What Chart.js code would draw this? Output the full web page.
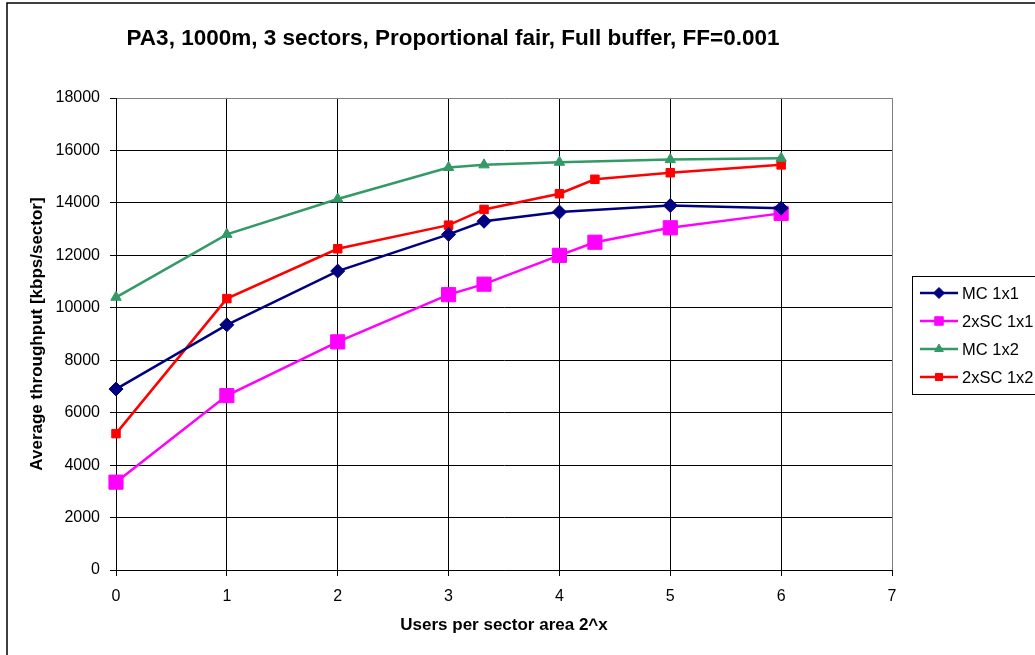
<!DOCTYPE html>
<html>
<head>
<meta charset="utf-8">
<script src="https://cdn.jsdelivr.net/npm/chart.js@4/dist/chart.umd.min.js"></script>
<style>
  html, body { margin: 0; padding: 0; background: #fff; overflow: hidden; }
  #wrap { width: 1035px; height: 655px; }
</style>
</head>
<body>
<div id="wrap"><canvas id="throughputChart" width="1035" height="655"></canvas></div>
<script>
// users per sector area, as exponent of 2
const xMc1x1 = [0, 1, 2, 3, 3.32, 4, 5, 6];
const mc1x1 = [6900, 9350, 11400, 12800, 13300, 13650, 13900, 13800];

const xSc1x1 = [0, 1, 2, 3, 3.32, 4, 4.32, 5, 6];
const sc1x1 = [3350, 6650, 8700, 10500, 10900, 12000, 12500, 13050, 13600];

const xMc1x2 = [0, 1, 2, 3, 3.32, 4, 5, 6];
const mc1x2 = [10400, 12800, 14150, 15350, 15450, 15550, 15650, 15700];

const xSc1x2 = [0, 1, 2, 3, 3.32, 4, 4.32, 5, 6];
const sc1x2 = [5200, 10350, 12250, 13150, 13750, 14350, 14900, 15150, 15450];

const seriesNames = ['MC 1x1', '2xSC 1x1', 'MC 1x2', '2xSC 1x2'];
const titleText = 'PA3, 1000m, 3 sectors, Proportional fair, Full buffer, FF=0.001';
const xTitle = 'Users per sector area 2^x';
const yTitle = 'Average throughput [kbps/sector]';

const FONT = "Arial, 'Liberation Sans', sans-serif";

function toPoints(xs, ys) {
  return xs.map(function(x, i) { return { x: x, y: ys[i] }; });
}

function makeSeries(label, xs, ys, color, style, radius, legendRadius) {
  return {
    label: label,
    data: toPoints(xs, ys),
    showLine: true,
    clip: false,
    borderColor: color,
    backgroundColor: color,
    borderWidth: 2.5,
    pointStyle: style,
    pointRadius: radius,
    pointHoverRadius: radius,
    pointBorderWidth: 1,
    pointBorderColor: color,
    pointBackgroundColor: color,
    legendRadius: legendRadius
  };
}

// frame round the whole chart, plus the title
const framePlugin = {
  id: 'frame',
  beforeDraw: function(chart) {
    const ctx = chart.ctx;
    ctx.save();
    ctx.fillStyle = '#fff';
    ctx.fillRect(0, 0, chart.width, chart.height);
    ctx.strokeStyle = '#000';
    ctx.lineWidth = 1.5;
    ctx.strokeRect(7, 3, chart.width + 20, chart.height + 20);
    ctx.fillStyle = '#000';
    ctx.font = 'bold 22.5px ' + FONT;
    ctx.textAlign = 'center';
    ctx.textBaseline = 'middle';
    ctx.fillText(titleText, 453, 39);
    ctx.restore();
  }
};

// boxed legend on the right, running off the edge
const legendPlugin = {
  id: 'boxLegend',
  afterDraw: function(chart) {
    const ctx = chart.ctx;
    const left = 912, top = 276, rowH = 28;
    ctx.save();
    ctx.fillStyle = '#fff';
    ctx.fillRect(left, top, 200, 118);
    ctx.strokeStyle = '#000';
    ctx.lineWidth = 1;
    ctx.strokeRect(left + 0.5, top + 0.5, 200, 118);
    chart.data.datasets.forEach(function(ds, i) {
      const y = top + 17 + i * rowH;
      ctx.strokeStyle = ds.borderColor;
      ctx.lineWidth = 2.5;
      ctx.beginPath();
      ctx.moveTo(920, y);
      ctx.lineTo(958, y);
      ctx.stroke();
      ctx.fillStyle = ds.pointBackgroundColor;
      ctx.strokeStyle = ds.pointBorderColor;
      ctx.lineWidth = 1;
      Chart.helpers.drawPoint(ctx, {
        pointStyle: ds.pointStyle,
        radius: ds.legendRadius,
        rotation: 0,
        borderWidth: 1
      }, 939, y);
      ctx.fillStyle = '#000';
      ctx.font = '16.5px ' + FONT;
      ctx.textAlign = 'left';
      ctx.textBaseline = 'middle';
      ctx.fillText(ds.label, 962, y + 1);
    });
    ctx.restore();
  }
};

const ctx = document.getElementById('throughputChart').getContext('2d');
const chart = new Chart(ctx, {
  type: 'scatter',
  data: {
    datasets: [
      makeSeries(seriesNames[0], xMc1x1, mc1x1, '#000080', 'rectRot', 7, 5.5),
      makeSeries(seriesNames[1], xSc1x1, sc1x1, '#FF00FF', 'rect', 10, 6),
      makeSeries(seriesNames[2], xMc1x2, mc1x2, '#339966', 'triangle', 6, 5),
      makeSeries(seriesNames[3], xSc1x2, sc1x2, '#FF0000', 'rect', 6, 5)
    ]
  },
  options: {
    responsive: false,
    animation: false,
    layout: { padding: { left: 0, top: 98, right: 143, bottom: 0 } },
    plugins: {
      legend: { display: false },
      title: { display: false },
      tooltip: { enabled: false }
    },
    scales: {
      x: {
        type: 'linear',
        min: 0,
        max: 7,
        afterFit: function(scale) { scale.height = 85; },
        ticks: {
          stepSize: 1,
          color: '#000',
          padding: 11,
          font: { family: FONT, size: 16 },
          callback: function(v) { return String(v); }
        },
        grid: {
          color: function(c) { return c.tick && c.tick.value === 7 ? '#808080' : '#000'; },
          tickColor: '#000',
          lineWidth: 1,
          tickLength: 6
        },
        border: { display: true, color: '#000', width: 1 },
        title: {
          display: true,
          text: xTitle,
          color: '#000',
          font: { family: FONT, size: 17, weight: 'bold' },
          padding: { top: 0, bottom: 19 }
        }
      },
      y: {
        min: 0,
        max: 18000,
        afterFit: function(scale) { scale.width = 116; },
        ticks: {
          stepSize: 2000,
          color: '#000',
          padding: 10,
          font: { family: FONT, size: 16 },
          callback: function(v) { return String(v); }
        },
        grid: {
          color: function(c) { return c.tick && c.tick.value === 18000 ? '#808080' : '#000'; },
          tickColor: '#000',
          lineWidth: 1,
          tickLength: 6
        },
        border: { display: true, color: '#000', width: 1 },
        title: {
          display: true,
          text: yTitle,
          color: '#000',
          font: { family: FONT, size: 17, weight: 'bold' },
          padding: { top: 27, bottom: 0 }
        }
      }
    }
  },
  plugins: [framePlugin, legendPlugin]
});
</script>
</body>
</html>
